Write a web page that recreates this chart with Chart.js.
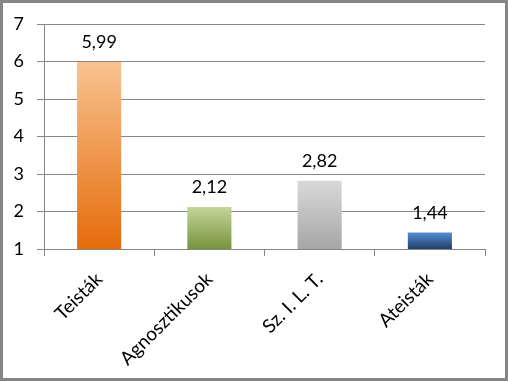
<!DOCTYPE html>
<html><head><meta charset="utf-8">
<script src="https://cdn.jsdelivr.net/npm/chart.js@4/dist/chart.umd.min.js"></script>
<style>html,body{margin:0;padding:0;background:#fff;}#c{display:block;}</style>
</head><body>
<canvas id="c" width="508" height="381"></canvas>
<script>
const categories = ["Teisták", "Agnosztikusok", "Sz. I. L. T.", "Ateisták"];
const values = [5.99, 2.12, 2.82, 1.44];
const valueLabels = ["5,99", "2,12", "2,82", "1,44"];
const yTicks = [1, 2, 3, 4, 5, 6, 7];
const gradTop = ["#F9C291", "#C3D69B", "#D9D9D9", "#558ED5"];
const gradBottom = ["#E46C0A", "#77933C", "#A6A6A6", "#1F3E66"];

const FONT = "Lato, 'Liberation Sans', sans-serif";

const labelPlugin = {
  id: 'valLabels',
  afterDatasetsDraw(chart) {
    const ctx = chart.ctx;
    const meta = chart.getDatasetMeta(0);
    ctx.save();
    ctx.font = "18px " + FONT;
    ctx.fillStyle = "#000";
    ctx.textAlign = "center";
    ctx.textBaseline = "alphabetic";
    meta.data.forEach((bar, i) => {
      ctx.fillText(valueLabels[i], bar.x, bar.y - 14);
    });
    ctx.restore();
  }
};
const framePlugin = {
  id: 'frame',
  afterDraw(chart) {
    const ctx = chart.ctx;
    ctx.save();
    ctx.strokeStyle = "#868686";
    ctx.lineWidth = 3;
    ctx.strokeRect(1.5, 1.5, chart.width - 3, chart.height - 3);
    ctx.restore();
  }
};

new Chart(document.getElementById('c'), {
  type: 'bar',
  data: {
    labels: categories,
    datasets: [{
      data: values,
      barPercentage: 0.8,
      categoryPercentage: 0.5,
      backgroundColor(ctx) {
        const chart = ctx.chart;
        const ys = chart.scales.y;
        if (!ys || ctx.parsed === undefined) return gradBottom[ctx.dataIndex];
        const top = ys.getPixelForValue(ctx.parsed.y);
        const bot = ys.getPixelForValue(ys.min);
        if (!isFinite(top) || !isFinite(bot) || top === bot) return gradBottom[ctx.dataIndex];
        const g = chart.ctx.createLinearGradient(0, top, 0, bot);
        g.addColorStop(0, gradTop[ctx.dataIndex]);
        g.addColorStop(1, gradBottom[ctx.dataIndex]);
        return g;
      },
      borderWidth: 0
    }]
  },
  options: {
    responsive: false,
    animation: false,
    devicePixelRatio: 1,
    layout: { padding: { left: 8, right: 23, top: 24, bottom: 0 } },
    plugins: { legend: { display: false }, tooltip: { enabled: false } },
    scales: {
      x: {
        grid: { drawOnChartArea: false, offset: true, tickLength: 7, color: "#868686", lineWidth: 1 },
        border: { color: "#868686", width: 1 },
        ticks: { color: "#000", font: { family: FONT, size: 19 }, minRotation: 45, maxRotation: 45, padding: 12 },
        afterFit(s) { s.height = 132; }
      },
      y: {
        min: 1, max: 7,
        afterBuildTicks(s) { s.ticks = yTicks.map(v => ({ value: v })); },
        grid: { color: "#868686", lineWidth: 1, tickLength: 7 },
        border: { color: "#868686", width: 1 },
        ticks: { color: "#000", font: { family: FONT, size: 18 }, padding: 13 },
        afterFit(s) { s.width = 36; }
      }
    }
  },
  plugins: [labelPlugin, framePlugin]
});
</script>
</body></html>
